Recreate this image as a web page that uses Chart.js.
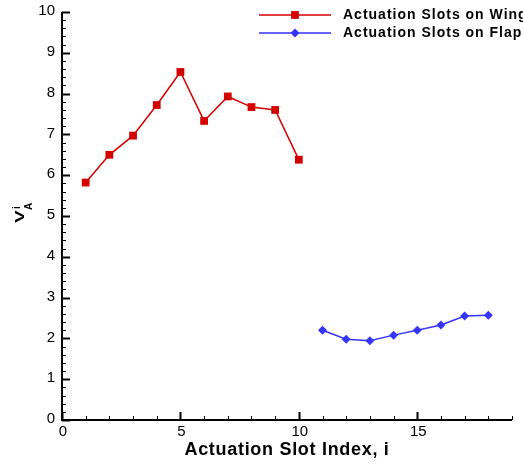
<!DOCTYPE html>
<html><head><meta charset="utf-8">
<script src="https://cdn.jsdelivr.net/npm/chart.js@4/dist/chart.umd.min.js"></script>
<style>html,body{margin:0;padding:0;background:#fff}#wrap{width:523px;height:464px}</style>
</head><body><div id="wrap"><canvas id="c" width="523" height="464"></canvas></div>
<script>
const wingIndex = [1,2,3,4,5,6,7,8,9,10];
const wingValues = [5.82,6.5,6.97,7.72,8.53,7.33,7.93,7.67,7.6,6.38];
const flapIndex = [11,12,13,14,15,16,17,18];
const flapValues = [2.2,1.98,1.94,2.08,2.2,2.33,2.55,2.57];
const xTicks = [0,5,10,15];
const yTicks = [0,1,2,3,4,5,6,7,8,9,10];
const seriesNames = ['Actuation Slots on Wing','Actuation Slots on Flap'];
const xTitle = 'Actuation Slot Index, i';

const RED = '#d40000', BLUE = '#3535ff';
const FONT = '"Liberation Sans", Arial, Helvetica, sans-serif';

const axesPlugin = {
  id: 'axesPlugin',
  afterDraw(chart) {
    const ctx = chart.ctx, xs = chart.scales.x, ys = chart.scales.y, a = chart.chartArea;
    ctx.save();
    ctx.strokeStyle = '#000';
    ctx.lineWidth = 2;
    ctx.beginPath();
    ctx.moveTo(a.left, a.top); ctx.lineTo(a.left, a.bottom); ctx.lineTo(a.right, a.bottom);
    ctx.stroke();
    for (let k = 0; k <= 50; k++) {
      const v = k * 0.2;
      const major = k % 5 === 0;
      const py = Math.round(ys.getPixelForValue(v)) + 0.5;
      ctx.lineWidth = major ? 2 : 1;
      ctx.beginPath(); ctx.moveTo(a.left, py); ctx.lineTo(a.left + (major ? 8 : 4), py); ctx.stroke();
    }
    for (let v = 0; v <= 19; v += 1) {
      const major = v % 5 === 0;
      const px = Math.round(xs.getPixelForValue(v)) + 0.5;
      ctx.lineWidth = major ? 2 : 1;
      ctx.beginPath(); ctx.moveTo(px, a.bottom); ctx.lineTo(px, a.bottom - (major ? 8 : 4)); ctx.stroke();
    }
    ctx.fillStyle = '#000';
    ctx.font = '15px ' + FONT;
    ctx.textAlign = 'right'; ctx.textBaseline = 'middle';
    yTicks.forEach(v => ctx.fillText(String(v), a.left - 7, ys.getPixelForValue(v) - 1));
    ctx.textAlign = 'center'; ctx.textBaseline = 'top';
    xTicks.forEach(v => ctx.fillText(String(v), xs.getPixelForValue(v) + 1, a.bottom + 4));
    // x title
    ctx.font = 'bold 18px ' + FONT;
    ctx.letterSpacing = '0.7px';
    ctx.textBaseline = 'alphabetic';
    ctx.fillText(xTitle, (a.left + a.right) / 2, 455);
    ctx.letterSpacing = '0px';
    // y title: V with superscript i and subscript A, rotated
    ctx.save();
    ctx.translate(24, 216);
    ctx.rotate(-Math.PI / 2);
    ctx.textAlign = 'left';
    ctx.font = 'bold 19px ' + FONT;
    ctx.save(); ctx.scale(1, 0.72); ctx.fillText('V', -7, 0); ctx.restore();
    ctx.font = 'bold 10px ' + FONT;
    ctx.fillText('i', 7, -4);
    ctx.fillText('A', 6, 8);
    ctx.restore();
    // legend
    const items = [{c: RED, s: 'rect', r: 5.5, y: 15}, {c: BLUE, s: 'rectRot', r: 4.5, y: 33}];
    items.forEach((it, i) => {
      ctx.strokeStyle = it.c; ctx.lineWidth = 1.5;
      ctx.beginPath(); ctx.moveTo(259, it.y); ctx.lineTo(331, it.y); ctx.stroke();
      ctx.fillStyle = it.c;
      Chart.helpers.drawPoint(ctx, {pointStyle: it.s, radius: it.r, borderWidth: 0}, 295, it.y);
      ctx.fillStyle = '#000';
      ctx.font = 'bold 14px ' + FONT;
      ctx.letterSpacing = '1px';
      ctx.textAlign = 'left'; ctx.textBaseline = 'middle';
      ctx.fillText(seriesNames[i], 343, it.y);
      ctx.letterSpacing = '0px';
    });
    ctx.restore();
  }
};

new Chart(document.getElementById('c'), {
  type: 'scatter',
  data: {
    datasets: [
      {label: seriesNames[0], data: wingIndex.map((x, i) => ({x, y: wingValues[i]})), showLine: true,
       borderColor: RED, backgroundColor: RED, borderWidth: 1.5, pointStyle: 'rect', pointRadius: 5.5,
       pointBorderWidth: 0, pointBackgroundColor: RED},
      {label: seriesNames[1], data: flapIndex.map((x, i) => ({x, y: flapValues[i]})), showLine: true,
       borderColor: BLUE, backgroundColor: BLUE, borderWidth: 1.5, pointStyle: 'rectRot', pointRadius: 4.5,
       pointBorderWidth: 0, pointBackgroundColor: BLUE}
    ]
  },
  options: {
    responsive: false, animation: false, devicePixelRatio: 1,
    layout: {padding: {top: 12, right: 11, left: 0, bottom: 0}},
    plugins: {legend: {display: false}, tooltip: {enabled: false}},
    scales: {
      x: {type: 'linear', min: 0, max: 19, grid: {display: false}, border: {display: false},
          ticks: {display: false}, afterFit(s) { s.height = 44; }},
      y: {type: 'linear', min: 0, max: 10, grid: {display: false}, border: {display: false},
          ticks: {display: false}, afterFit(s) { s.width = 62; }}
    }
  },
  plugins: [axesPlugin]
});
</script></body></html>
